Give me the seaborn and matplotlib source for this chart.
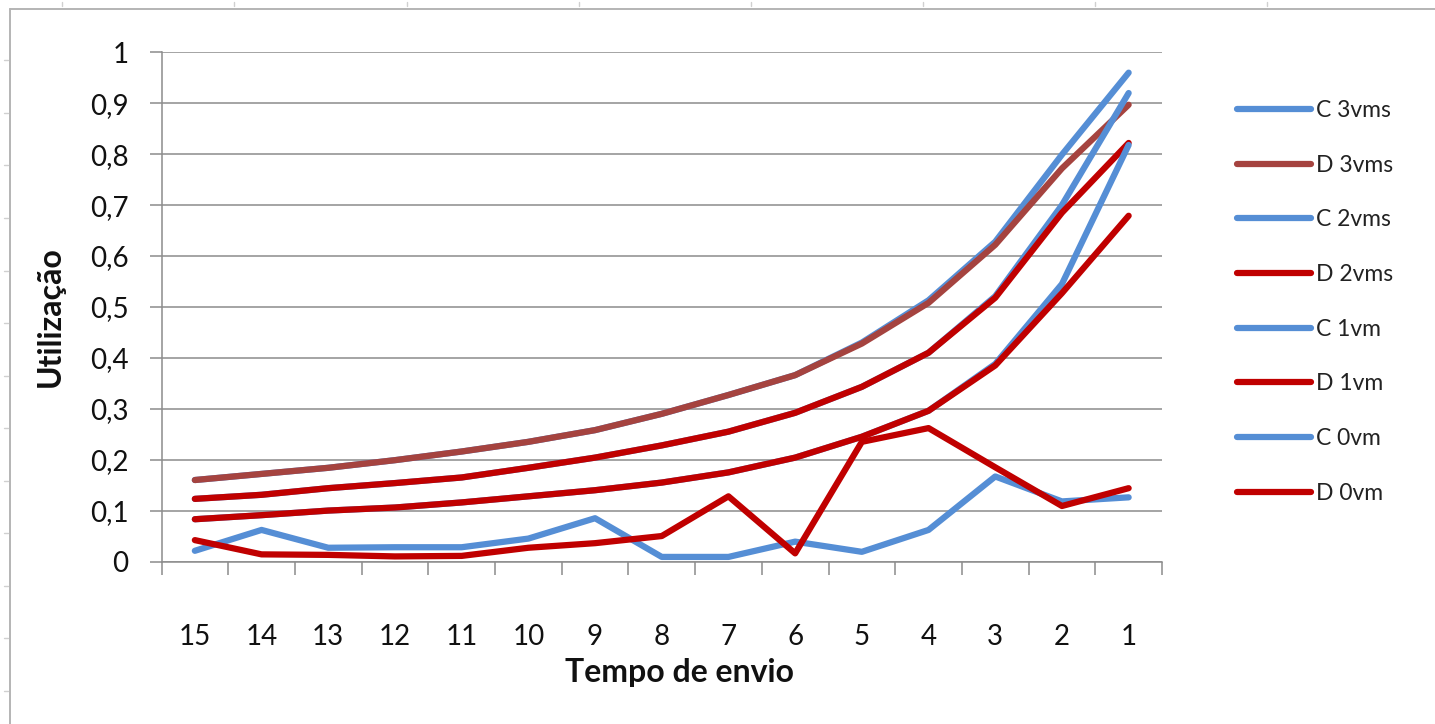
#!/usr/bin/env python3

import pandas as pd
import seaborn as sns
import matplotlib.pyplot as plt
from matplotlib.lines import Line2D

# Categories (Tempo de envio), left to right
tempos = ["15", "14", "13", "12", "11", "10", "9", "8", "7", "6", "5", "4", "3", "2", "1"]

# Utilização per series
c_3vms = [0.160, 0.172, 0.184, 0.199, 0.216, 0.235, 0.258, 0.290, 0.327, 0.366, 0.430, 0.513, 0.628, 0.799, 0.960]
d_3vms = [0.160, 0.172, 0.184, 0.199, 0.216, 0.235, 0.258, 0.290, 0.327, 0.366, 0.428, 0.508, 0.622, 0.772, 0.897]
c_2vms = [0.123, 0.131, 0.144, 0.154, 0.165, 0.184, 0.204, 0.228, 0.255, 0.292, 0.343, 0.410, 0.521, 0.700, 0.920]
d_2vms = [0.123, 0.131, 0.144, 0.154, 0.165, 0.184, 0.204, 0.228, 0.255, 0.292, 0.343, 0.410, 0.518, 0.685, 0.822]
c_1vm = [0.083, 0.091, 0.100, 0.106, 0.116, 0.128, 0.140, 0.155, 0.175, 0.204, 0.245, 0.296, 0.388, 0.545, 0.818]
d_1vm = [0.083, 0.091, 0.100, 0.106, 0.116, 0.128, 0.140, 0.155, 0.175, 0.204, 0.245, 0.296, 0.385, 0.527, 0.679]
c_0vm = [0.021, 0.062, 0.027, 0.028, 0.028, 0.045, 0.085, 0.009, 0.009, 0.039, 0.019, 0.062, 0.167, 0.118, 0.126]
d_0vm = [0.042, 0.014, 0.013, 0.010, 0.011, 0.027, 0.036, 0.050, 0.128, 0.016, 0.235, 0.262, 0.185, 0.109, 0.144]

y_ticks = [0, 0.1, 0.2, 0.3, 0.4, 0.5, 0.6, 0.7, 0.8, 0.9, 1.0]
y_labels = ["0", "0,1", "0,2", "0,3", "0,4", "0,5", "0,6", "0,7", "0,8", "0,9", "1"]

BLUE = "#558ED5"
BROWN = "#A5433F"
RED = "#C00000"
GRID = "#8C8C8C"


def main():
    series = [
        ("C 3vms", c_3vms, BLUE),
        ("D 3vms", d_3vms, BROWN),
        ("C 2vms", c_2vms, BLUE),
        ("D 2vms", d_2vms, RED),
        ("C 1vm", c_1vm, BLUE),
        ("D 1vm", d_1vm, RED),
        ("C 0vm", c_0vm, BLUE),
        ("D 0vm", d_0vm, RED),
    ]
    names = [s[0] for s in series]
    palette = {s[0]: s[2] for s in series}

    # Long form data frame for seaborn
    rows = []
    for name, values, _ in series:
        for pos, value in enumerate(values):
            rows.append({"pos": pos, "util": value, "serie": name})
    df = pd.DataFrame(rows)

    sns.set_style("white")
    plt.rcParams["font.family"] = ["Lato", "DejaVu Sans"]

    fig = plt.figure(figsize=(14.35, 7.24), dpi=100)
    ax = fig.add_axes([161.5 / 1435, 1 - 561.5 / 724, 1000.5 / 1435, 509.2 / 724])

    sns.lineplot(
        data=df, x="pos", y="util", hue="serie", hue_order=names,
        palette=palette, linewidth=4.5, estimator=None, sort=False,
        legend=False, ax=ax,
        solid_capstyle="round", solid_joinstyle="round",
    )

    ax.set_xlim(-0.5, len(tempos) - 0.5)
    ax.set_ylim(0, 1)

    # x: labels at the centres, tick marks on the category boundaries
    ax.set_xticks(range(len(tempos)))
    ax.set_xticklabels(tempos, fontsize=20, color="#111111")
    ax.set_xticks([i - 0.5 for i in range(len(tempos) + 1)], minor=True)
    ax.tick_params(axis="x", which="major", length=0, pad=45)
    ax.tick_params(axis="x", which="minor", length=9, width=1.1, color=GRID, direction="out", bottom=True)

    ax.set_yticks(y_ticks)
    ax.set_yticklabels(y_labels, fontsize=20, color="#111111")
    ax.tick_params(axis="y", which="major", length=8.6, width=1.1, color=GRID, direction="out", left=True, pad=15)

    ax.grid(axis="y", color=GRID, linewidth=1.1)
    ax.grid(axis="x", visible=False)
    ax.set_axisbelow(True)

    for side in ["top", "right"]:
        ax.spines[side].set_visible(False)
    for side in ["left", "bottom"]:
        ax.spines[side].set_color(GRID)
        ax.spines[side].set_linewidth(1.1)

    ax.set_xlabel("Tempo de envio", fontsize=23, fontweight="bold", color="#111111")
    ax.xaxis.set_label_coords(0.518, -0.19)
    ax.set_ylabel("Utilização", fontsize=23, fontweight="bold", color="#111111")
    ax.yaxis.set_label_coords(-0.097, 0.482)

    # Legend on the right
    leg = fig.legend(
        ax.get_lines()[:len(names)], names,
        loc="upper left", bbox_to_anchor=(1237 / 1435, 1 - 100 / 724),
        frameon=False, fontsize=16.5, handlelength=3.25, handletextpad=0.2,
        labelspacing=1.47, borderpad=0, borderaxespad=0,
    )
    for text in leg.get_texts():
        text.set_color("#222222")

    # Spreadsheet frame around the chart
    fw, fh = 1435, 724
    fig.add_artist(Line2D([10 / fw, 10 / fw], [0, 1 - 9 / fh], color="#B4B4B4", lw=1.4))
    fig.add_artist(Line2D([10 / fw, 1], [1 - 9 / fh, 1 - 9 / fh], color="#B4B4B4", lw=1.4))
    for yy in [60, 113, 165, 218, 271, 323, 376, 428, 481, 533, 586, 638, 691]:
        fig.add_artist(Line2D([4 / fw, 8 / fw], [1 - yy / fh, 1 - yy / fh], color="#D0D0D0", lw=1))
    for xx in [62, 234, 407, 579, 751, 923, 1095, 1267]:
        fig.add_artist(Line2D([xx / fw, xx / fw], [1 - 2 / fh, 1 - 6 / fh], color="#D0D0D0", lw=1))

    fig.savefig("out.png", dpi=100, facecolor="white")


if __name__ == "__main__":
    main()
